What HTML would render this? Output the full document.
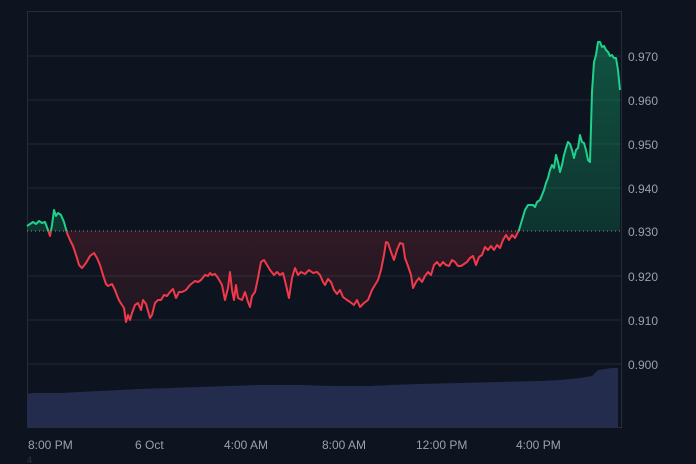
<!DOCTYPE html>
<html><head><meta charset="utf-8"><style>
html,body{margin:0;padding:0;background:#0d141f;}
svg{display:block;font-family:"Liberation Sans",sans-serif;}
</style></head><body>
<svg width="696" height="464" viewBox="0 0 696 464" xmlns="http://www.w3.org/2000/svg">
<defs>
<linearGradient id="gg" x1="0" y1="0" x2="0" y2="1"><stop offset="0" stop-color="#13a06a" stop-opacity="0.45"/><stop offset="1" stop-color="#13a06a" stop-opacity="0.12"/></linearGradient>
<linearGradient id="rg" x1="0" y1="0" x2="0" y2="1"><stop offset="0" stop-color="#e0343f" stop-opacity="0.35"/><stop offset="1" stop-color="#e0343f" stop-opacity="0.08"/></linearGradient>
<clipPath id="above"><rect x="0" y="0" width="696" height="231"/></clipPath>
<clipPath id="below"><rect x="0" y="231" width="696" height="200"/></clipPath>
</defs>
<rect width="696" height="464" fill="#0d141f"/>
<g stroke="#222a36" stroke-width="1">
<line x1="27" y1="56" x2="621" y2="56"/><line x1="27" y1="100" x2="621" y2="100"/>
<line x1="27" y1="144" x2="621" y2="144"/><line x1="27" y1="188" x2="621" y2="188"/>
<line x1="27" y1="276" x2="621" y2="276"/><line x1="27" y1="320" x2="621" y2="320"/>
<line x1="27" y1="364" x2="621" y2="364"/>
</g>
<rect x="27.5" y="11.5" width="594" height="416" fill="none" stroke="#252d39"/>
<path d="M27,394 L33,393 L37,393 L60,393 L80,392 L100,391 L120,390 L140,389 L170,388 L200,387 L230,386 L260,385 L300,385 L330,386 L370,386 L390,385 L420,384 L460,383 L500,382 L540,381 L560,380 L580,378 L592,376 L598,370 L605,369 L612,368 L618,368 L618,427 L27,427Z" fill="#232c4d"/>
<polyline fill="none" stroke="#8a93a0" stroke-width="1" stroke-dasharray="1,3" points="27,231 621,231"/>
<g id="g1"></g>
<text x="628" y="61" fill="#9aa1ad" font-size="12">0.970</text>
<text x="628" y="105" fill="#9aa1ad" font-size="12">0.960</text>
<text x="628" y="149" fill="#9aa1ad" font-size="12">0.950</text>
<text x="628" y="193" fill="#9aa1ad" font-size="12">0.940</text>
<text x="628" y="236" fill="#9aa1ad" font-size="12">0.930</text>
<text x="628" y="281" fill="#9aa1ad" font-size="12">0.920</text>
<text x="628" y="325" fill="#9aa1ad" font-size="12">0.910</text>
<text x="628" y="369" fill="#9aa1ad" font-size="12">0.900</text>
<g fill="#9aa1ad" font-size="12">
<text x="28" y="449">8:00 PM</text><text x="135" y="449">6 Oct</text>
<text x="224" y="449">4:00 AM</text><text x="322" y="449">8:00 AM</text>
<text x="416" y="449">12:00 PM</text><text x="516" y="449">4:00 PM</text>
</g>
<text x="27" y="463" fill="#333" font-size="9">4</text>
</svg>
<script>
var p="27,226 30,224 33,222 36,224 39,221 42,223 45,222 48,230 50,236 52,225 54,210 56,216 58,213 61,215 64,222 67,233 70,240 73,246 77,258 79,265 82,268 86,263 90,256 94,253 97,258 100,265 103,275 106,284 108,286 112,284 115,290 118,298 120,302 124,308 126,322 128,315 130,320 132,313 135,305 138,303 141,310 143,300 146,304 148,311 150,318 152,315 155,303 158,300 161,300 164,295 167,296 170,292 173,289 176,298 179,292 182,292 186,290 190,285 195,281 198,282 201,280 205,275 208,276 210,273 212,275 215,274 218,278 222,285 225,300 228,288 230,272 232,290 234,300 236,285 238,298 242,300 245,292 248,302 250,307 252,296 255,292 258,278 261,262 264,260 267,265 270,270 274,275 277,272 280,275 283,273 286,285 289,298 292,278 295,268 298,275 301,272 305,274 309,270 313,273 317,272 320,275 323,282 325,285 328,279 331,282 334,290 337,294 340,290 343,297 347,300 350,302 354,305 357,300 360,307 364,303 368,300 372,290 375,285 378,280 381,270 384,255 386,242 388,243 391,252 394,260 397,250 400,243 403,244 405,258 408,266 411,275 413,288 416,282 419,278 422,282 425,276 428,272 431,275 434,265 437,262 440,266 443,262 446,265 449,266 452,260 455,262 458,266 461,266 464,264 467,262 470,258 473,256 476,265 479,257 482,255 485,247 488,250 491,246 494,250 497,245 500,248 503,240 506,235 509,240 512,235 515,238 519,230 522,220 525,210 528,205 533,205 535,207 537,202 540,200 542,195 544,190 546,183 548,178 550,170 552,165 554,168 556,155 558,162 560,172 562,165 564,155 566,148 568,142 570,144 572,150 574,158 576,150 578,148 580,135 582,142 584,143 586,150 588,160 590,162 592,92 594,62 596,55 598,42 600,42 602,47 604,46 606,50 608,52 610,56 612,55 614,58 616,58 618,70 620,90";
var NS="http://www.w3.org/2000/svg",g=document.getElementById("g1");
function el(t,a){var e=document.createElementNS(NS,t);for(var k in a)e.setAttribute(k,a[k]);g.appendChild(e);}
var area="M27,231 L"+p.split(" ").join(" L")+" L620,231 Z";
el("path",{d:area,fill:"url(#gg)","clip-path":"url(#above)"});
el("path",{d:area,fill:"url(#rg)","clip-path":"url(#below)"});
el("polyline",{points:p,fill:"none",stroke:"#1fd18a","stroke-width":2,"stroke-linejoin":"round","clip-path":"url(#above)"});
el("polyline",{points:p,fill:"none",stroke:"#f0394a","stroke-width":2,"stroke-linejoin":"round","clip-path":"url(#below)"});
</script>
</body></html>
